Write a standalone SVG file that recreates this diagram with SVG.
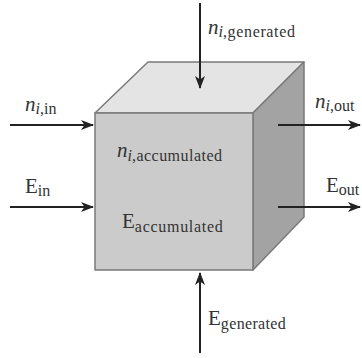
<svg xmlns="http://www.w3.org/2000/svg" width="362" height="358" viewBox="0 0 362 358">
<defs>
<marker id="ah" viewBox="0 0 13 10" refX="12" refY="5" markerWidth="13" markerHeight="10" markerUnits="userSpaceOnUse" orient="auto">
<path d="M0,0 L13,5 L0,10 L3.5,5 Z" fill="#222"/>
</marker>
</defs>
<style>
text{font-family:'Liberation Serif','Times New Roman',serif;fill:#333;}
.it{font-style:italic;}
.main{font-size:21px;}
.sub{font-size:16px;}
.conn{stroke:#222;stroke-width:2;fill:none;marker-end:url(#ah);}
.edge{stroke:#7a7a7a;stroke-width:1.5;stroke-linejoin:round;}
</style>
<rect width="362" height="358" fill="#ffffff"/>
<g id="cube">
<polygon class="edge" points="95,113 148,62 304,62 253,113" fill="#e4e4e4"/>
<polygon class="edge" points="253,113 304,62 304,217 253,270" fill="#a3a3a3"/>
<rect class="edge" x="95" y="113" width="158" height="157" fill="#cbcbcb"/>
</g>
<g id="connectors">
<line class="conn" x1="200" y1="3" x2="200" y2="88"/>
<line class="conn" x1="10" y1="125" x2="93" y2="125"/>
<line class="conn" x1="10" y1="207" x2="93" y2="207"/>
<line class="conn" x1="278" y1="125" x2="360" y2="125"/>
<line class="conn" x1="278" y1="207" x2="360" y2="207"/>
<line class="conn" x1="200" y1="353" x2="200" y2="273"/>
</g>
<g id="n_generated">
<text x="208" y="34"><tspan class="it main">n</tspan><tspan class="it sub" dy="3">i</tspan><tspan class="sub" textLength="72">,generated</tspan></text>
</g>
<g id="n_in">
<text x="25" y="111"><tspan class="it main">n</tspan><tspan class="it sub" dy="3">i</tspan><tspan class="sub">,in</tspan></text>
</g>
<g id="n_out">
<text x="315" y="108"><tspan class="it main">n</tspan><tspan class="it sub" dy="3">i</tspan><tspan class="sub">,out</tspan></text>
</g>
<g id="E_in">
<text x="25" y="193"><tspan class="main">E</tspan><tspan class="sub" dy="3">in</tspan></text>
</g>
<g id="E_out">
<text x="326" y="192"><tspan class="main">E</tspan><tspan class="sub" dy="3">out</tspan></text>
</g>
<g id="n_acc">
<text x="117" y="157"><tspan class="it main">n</tspan><tspan class="it sub" dy="4">i</tspan><tspan class="sub" textLength="90">,accumulated</tspan></text>
</g>
<g id="E_acc">
<text x="122" y="228"><tspan class="main">E</tspan><tspan class="sub" dy="4" textLength="88">accumulated</tspan></text>
</g>
<g id="E_generated">
<text x="208" y="325"><tspan class="main">E</tspan><tspan class="sub" dy="4" textLength="65">generated</tspan></text>
</g>
</svg>
